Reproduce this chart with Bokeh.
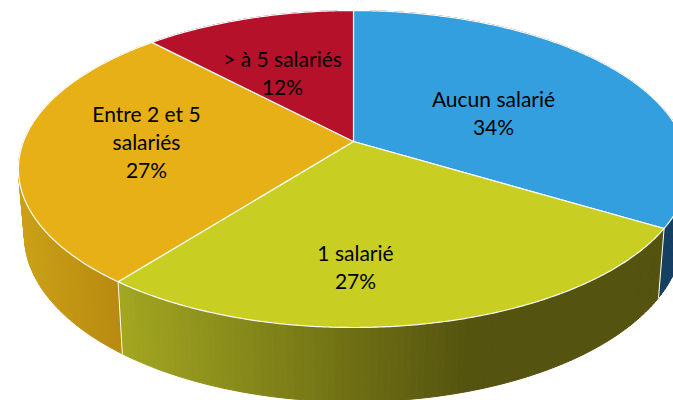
import math
from bokeh.plotting import figure
from bokeh.models import Range1d
from bokeh.core.properties import value
from bokeh.embed import file_html
from bokeh.resources import INLINE

# --- data, clockwise from 12 o'clock ---
categories = ["Aucun salarié", "1 salarié", "Entre 2 et 5\nsalariés", "> à 5 salariés"]
shares = [34, 27, 27, 12]
share_labels = ["34%", "27%", "27%", "12%"]

# --- styles ---
top_colors = ["#349FDE", "#C8CF22", "#E6B016", "#B5112A"]
side_dark = [(0x15, 0x40, 0x62), (0x54, 0x53, 0x0F), (0xB8, 0x89, 0x10), (0x70, 0x08, 0x18)]
side_light = [(0x15, 0x40, 0x62), (0xA2, 0xA6, 0x20), (0xCB, 0xA0, 0x17), (0x70, 0x08, 0x18)]
side_span = [(600, 673), (120, 470), (20, 118), (150, 353)]  # x span of the shading

# --- layout (page pixels) ---
CX, CY, A, B, K = 353.0, 141.0, 330.0, 153.7, 0.1736
WARP = 1.8
SIDE_DY, SIDE_SX, SIDE_SY = 65.0, 0.982, 1.05
label_anchor = [(493, 98), (355, 252), (146, 113), (282, 58)]
LINE_H = 28


def project(theta_deg, r=1.0):
    w = theta_deg - WARP * math.sin(math.radians(theta_deg / 2)) ** 2
    t = math.radians(w)
    u, v = r * math.sin(t), -r * math.cos(t)
    d = 1 - K * v
    return CX + A * u / d, CY + B * v / d


def project_base(theta_deg):
    x, y = project(theta_deg)
    return CX + (x - CX) * SIDE_SX, CY + (y - CY) * SIDE_SY + SIDE_DY


def arc(a0, a1, step=0.5):
    n = max(2, int(abs(a1 - a0) / step) + 1)
    return [a0 + (a1 - a0) * i / (n - 1) for i in range(n)]


total = sum(shares)
edges = [0.0]
for s in shares:
    edges.append(edges[-1] + 360.0 * s / total)

p = figure(width=673, height=400, x_range=Range1d(0, 673), y_range=Range1d(400, 0),
           output_backend="svg", toolbar_location=None, min_border=0,
           background_fill_color="white", outline_line_color=None)
p.axis.visible = False
p.grid.visible = False

# side wall, drawn as thin strips so its shading runs left to right
xs, ys, cs = [], [], []
for i in range(len(shares)):
    pts = arc(edges[i], edges[i + 1], 1.0)
    x0, x1 = side_span[i]
    for a, b in zip(pts[:-1], pts[1:]):
        t0, t1 = project(a), project(b)
        b0, b1 = project_base(a), project_base(b)
        xs.append([t0[0], t1[0], b1[0], b0[0]])
        ys.append([t0[1], t1[1], b1[1], b0[1]])
        f = min(1, max(0, ((t0[0] + t1[0]) / 2 - x0) / (x1 - x0)))
        l, d = side_light[i], side_dark[i]
        cs.append("#%02x%02x%02x" % tuple(round(l[k] + (d[k] - l[k]) * f) for k in range(3)))
p.patches(xs, ys, fill_color=cs, line_color=cs, line_width=1)

# white seams down the wall
for e in (edges[1], edges[2]):
    t, b = project(e), project_base(e)
    p.line([t[0], b[0]], [t[1], b[1]], line_color="white", line_width=1)

# top faces
fx, fy = [], []
for i in range(len(shares)):
    pts = [project(a) for a in arc(edges[i], edges[i + 1])]
    fx.append([CX] + [q[0] for q in pts])
    fy.append([CY] + [q[1] for q in pts])
p.patches(fx, fy, fill_color=top_colors, line_color="white", line_width=1.2)

# labels
tx, ty, tt = [], [], []
for cat, lab, (ax, ay) in zip(categories, share_labels, label_anchor):
    for j, line in enumerate(cat.split("\n") + [lab]):
        tx.append(ax)
        ty.append(ay + j * LINE_H)
        tt.append(line)
p.text(tx, ty, text=tt, text_font=value("Lato"), text_font_size="21px", text_color="black",
       text_align="center", text_baseline="middle")

open("out.html", "w").write(file_html(p, INLINE))
